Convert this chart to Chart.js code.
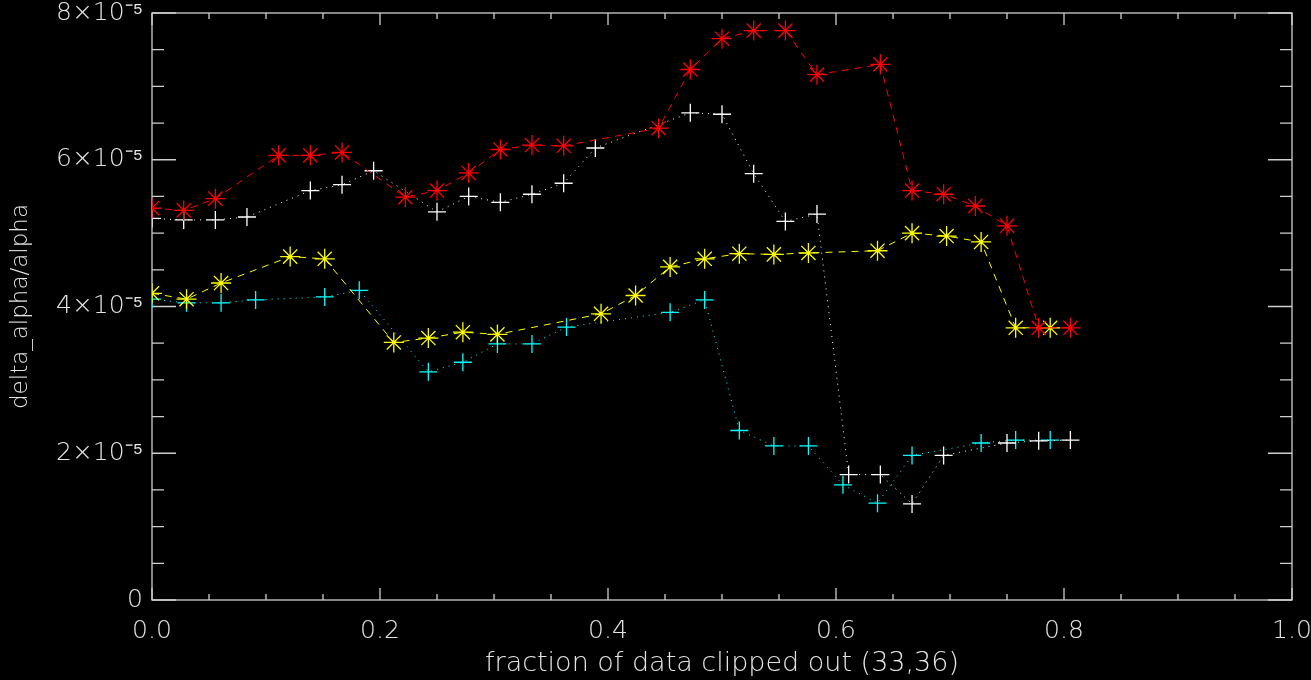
<!DOCTYPE html>
<html>
<head>
<meta charset="utf-8">
<script src="https://cdn.jsdelivr.net/npm/chart.js@4/dist/chart.umd.min.js"></script>
<style>
  html, body { margin: 0; padding: 0; background: #000; }
  #wrap { width: 1311px; height: 680px; }
</style>
</head>
<body>
<div id="wrap"><canvas id="chartCanvas" width="1311" height="680"></canvas></div>
<script>
// values are in units of 1e-5
const redX = [0, 0.0278, 0.0556, 0.1111, 0.1389, 0.1667, 0.2222, 0.25, 0.2778, 0.3056, 0.3333, 0.3611,
  0.4444, 0.4722, 0.5, 0.5278, 0.5556, 0.5833, 0.6389, 0.6667, 0.6944, 0.7222, 0.75, 0.7778, 0.8056];
const redY = [5.34, 5.31, 5.47, 6.06, 6.06, 6.10, 5.49, 5.58, 5.82, 6.14, 6.20, 6.19,
  6.43, 7.23, 7.65, 7.76, 7.76, 7.16, 7.30, 5.58, 5.53, 5.37, 5.10, 3.71, 3.71];

const whiteX = [0, 0.0278, 0.0556, 0.0833, 0.1389, 0.1667, 0.1944, 0.25, 0.2778, 0.3056, 0.3333, 0.3611,
  0.3889, 0.4722, 0.5, 0.5278, 0.5556, 0.5833, 0.6111, 0.6389, 0.6667, 0.6944, 0.75, 0.7778, 0.8056];
const whiteY = [5.20, 5.18, 5.18, 5.22, 5.58, 5.66, 5.85, 5.29, 5.50, 5.42, 5.53, 5.68,
  6.16, 6.64, 6.62, 5.81, 5.16, 5.26, 1.71, 1.71, 1.31, 1.97, 2.14, 2.17, 2.18];

const yellowX = [0, 0.0303, 0.0606, 0.1212, 0.1515, 0.2121, 0.2424, 0.2727, 0.3030, 0.3939, 0.4242,
  0.4545, 0.4848, 0.5152, 0.5455, 0.5758, 0.6364, 0.6667, 0.6970, 0.7273, 0.7576, 0.7879];
const yellowY = [4.18, 4.10, 4.32, 4.68, 4.65, 3.51, 3.57, 3.65, 3.62, 3.90, 4.15,
  4.54, 4.65, 4.72, 4.71, 4.73, 4.76, 5.00, 4.96, 4.88, 3.71, 3.71];

const cyanX = [0, 0.0303, 0.0606, 0.0909, 0.1515, 0.1818, 0.2424, 0.2727, 0.3030, 0.3333, 0.3636,
  0.4545, 0.4848, 0.5152, 0.5455, 0.5758, 0.6061, 0.6364, 0.6667, 0.7273, 0.7576, 0.7879];
const cyanY = [4.10, 4.05, 4.05, 4.09, 4.13, 4.22, 3.11, 3.24, 3.49, 3.49, 3.72,
  3.92, 4.09, 2.31, 2.10, 2.10, 1.57, 1.32, 1.97, 2.14, 2.18, 2.18];

const xTickLabels = ["0.0", "0.2", "0.4", "0.6", "0.8", "1.0"];
const yTickLabels = ["0", "2\u00d710\u207b\u2075", "4\u00d710\u207b\u2075", "6\u00d710\u207b\u2075", "8\u00d710\u207b\u2075"];

const FONT = "'DejaVu Sans', sans-serif";
const FG = "#e4e4e4";
const AXIS = "#cfcfcf";

const pts = (xs, ys) => xs.map((x, i) => ({ x, y: ys[i] }));

function series(label, xs, ys, color, dash, style, radius) {
  return {
    label,
    data: pts(xs, ys),
    showLine: true,
    borderColor: color,
    borderWidth: 1,
    borderDash: dash,
    pointStyle: style,
    pointRadius: radius,
    pointBorderColor: color,
    pointBorderWidth: 1.3,
    pointBackgroundColor: color,
    tension: 0,
  };
}

const frameTicks = {
  id: "frameTicks",
  beforeDatasetsDraw(chart) {
    const { ctx, chartArea: a, scales } = chart;
    const xs = scales.x, ys = scales.y;
    ctx.save();
    ctx.strokeStyle = AXIS;
    ctx.lineWidth = 1.3;
    ctx.strokeRect(a.left, a.top, a.right - a.left, a.bottom - a.top);
    ctx.beginPath();
    for (let k = 0; k <= 20; k++) {
      const px = xs.getPixelForValue(k * 0.05);
      const len = k % 4 === 0 ? 12 : 6;
      ctx.moveTo(px, a.bottom); ctx.lineTo(px, a.bottom - len);
      ctx.moveTo(px, a.top); ctx.lineTo(px, a.top + len);
    }
    for (let k = 0; k <= 16; k++) {
      const py = ys.getPixelForValue(k * 0.5);
      const len = k % 4 === 0 ? 24 : 12;
      ctx.moveTo(a.left, py); ctx.lineTo(a.left + len, py);
      ctx.moveTo(a.right, py); ctx.lineTo(a.right - len, py);
    }
    ctx.stroke();
    ctx.restore();
  }
};

const ctx = document.getElementById("chartCanvas").getContext("2d");
new Chart(ctx, {
  type: "scatter",
  data: {
    datasets: [
      series("red", redX, redY, "#ff0000", [7, 6], "star", 10),
      series("white", whiteX, whiteY, "#ffffff", [1, 5], "cross", 9),
      series("yellow", yellowX, yellowY, "#ffff00", [7, 6], "star", 10),
      series("cyan", cyanX, cyanY, "#00ffff", [1, 5], "cross", 9),
    ]
  },
  options: {
    responsive: false,
    animation: false,
    layout: { padding: { top: 13, right: 19, left: 7, bottom: 0 } },
    plugins: { legend: { display: false }, tooltip: { enabled: false } },
    scales: {
      x: {
        type: "linear", min: 0, max: 1,
        grid: { display: false, drawTicks: false },
        border: { display: false },
        afterBuildTicks: (s) => { s.ticks = xTickLabels.map(t => ({ value: parseFloat(t) })); },
        afterFit: (s) => { s.height = 80; s.paddingLeft = 0; s.paddingRight = 0; },
        ticks: {
          color: FG, font: { family: FONT, size: 25, weight: 200 }, padding: 16, maxRotation: 0,
          callback: (v, i) => xTickLabels[i]
        },
        title: {
          display: true, text: "fraction of data clipped out (33,36)",
          color: FG, font: { family: FONT, size: 27, weight: 200 }, padding: { top: 2, bottom: 0 }
        }
      },
      y: {
        type: "linear", min: 0, max: 8,
        grid: { display: false, drawTicks: false },
        border: { display: false },
        afterBuildTicks: (s) => { s.ticks = yTickLabels.map((t, i) => ({ value: i * 2 })); },
        afterFit: (s) => { s.width = 145; s.paddingTop = 0; s.paddingBottom = 0; },
        ticks: {
          color: FG, font: { family: FONT, size: 25, weight: 200 }, padding: 9,
          callback: (v, i) => yTickLabels[i]
        },
        title: {
          display: true, text: "delta_alpha/alpha",
          color: FG, font: { family: FONT, size: 23, weight: 200 }, padding: 0
        }
      }
    }
  },
  plugins: [frameTicks]
});
</script>
</body>
</html>
